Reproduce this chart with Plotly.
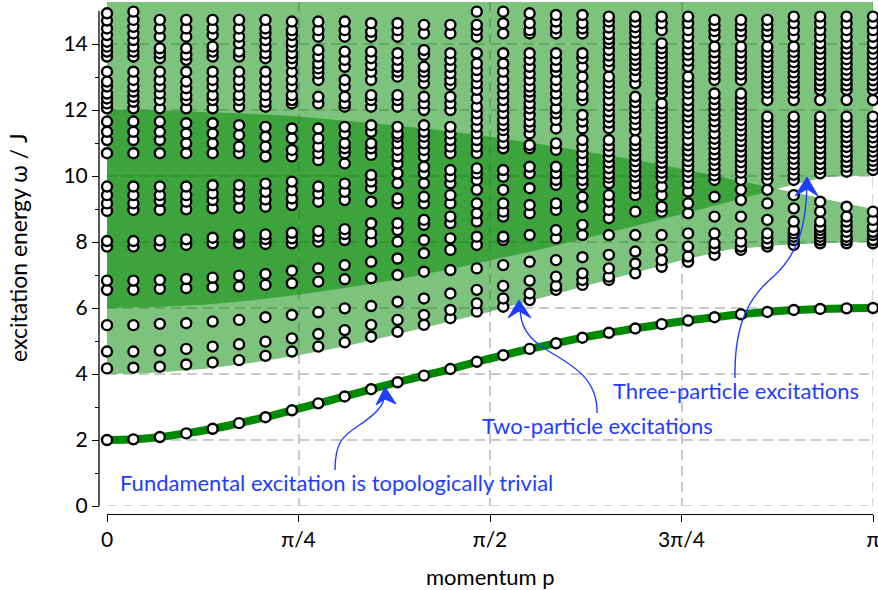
import numpy as np
import plotly.graph_objects as go

# ---------------------------------------------------------------------------
# Data
# ---------------------------------------------------------------------------
N_STEPS = 29                                   # momentum grid: p = k*pi/29
momentum = [k * np.pi / N_STEPS for k in range(N_STEPS + 1)]

# single-particle (fundamental) branch, omega / J
fundamental = [2.00, 2.02, 2.09, 2.20, 2.34, 2.51, 2.69, 2.90, 3.11, 3.32,
               3.54, 3.75, 3.95, 4.15, 4.37, 4.57, 4.76, 4.93, 5.10, 5.25,
               5.38, 5.51, 5.62, 5.72, 5.81, 5.88, 5.94, 5.97, 5.99, 6.00]

# continuum edges sampled at p = n*pi/16
band_p = [n * np.pi / 16 for n in range(17)]
two_lower = [4.00, 4.04, 4.15, 4.33, 4.57, 4.85, 5.18, 5.53, 5.89, 6.28,
             6.67, 7.06, 7.45, 7.77, 7.90, 7.97, 8.00]
two_upper = [12.00, 11.99, 11.95, 11.89, 11.80, 11.68, 11.54, 11.38, 11.19,
             10.98, 10.75, 10.50, 10.22, 9.93, 9.62, 9.31, 9.00]
three_lower = [6.00, 6.03, 6.10, 6.23, 6.40, 6.61, 6.85, 7.13, 7.44, 7.76,
               8.11, 8.47, 8.84, 9.22, 9.61, 9.97, 10.02]
three_upper = [15.87, 15.90, 15.95, 16.00, 16.10, 16.20, 16.30, 16.50, 16.60,
               16.80, 16.90, 17.10, 17.30, 17.50, 17.70, 17.90, 18.00]

# multi-particle eigenvalues, one list per momentum column
multiparticle = [
    [4.17, 4.68, 5.48, 6.55, 6.83, 7.86, 8.03, 8.94, 9.17, 9.42, 9.68,
     10.69, 11.09, 11.34, 11.65, 12.05, 12.20, 12.35, 12.50, 12.71, 12.86, 13.16,
     13.62, 13.77, 13.92, 14.07, 14.27, 14.47, 14.71, 14.93],
    [4.19, 4.68, 5.48, 6.55, 6.83, 7.86, 8.03, 8.97, 9.17, 9.42, 9.68,
     10.69, 11.09, 11.34, 11.65, 12.05, 12.25, 12.40, 12.56, 12.71, 12.91, 13.16,
     13.62, 13.77, 13.92, 14.12, 14.32, 14.52, 14.73, 14.98],
    [4.22, 4.71, 5.52, 6.58, 6.85, 7.88, 8.05, 8.97, 9.25, 9.42, 9.68,
     10.69, 11.09, 11.34, 11.65, 12.05, 12.30, 12.50, 12.71, 12.91, 13.16,
     13.57, 13.72, 13.87, 14.22, 14.47, 14.73],
    [4.29, 4.76, 5.54, 6.60, 6.88, 7.91, 8.08, 8.99, 9.22, 9.42, 9.68,
     10.69, 10.99, 11.29, 11.60, 12.05, 12.30, 12.45, 12.66, 12.86, 13.16,
     13.52, 13.67, 13.87, 14.22, 14.47, 14.73],
    [4.35, 4.83, 5.59, 6.63, 6.92, 7.96, 8.13, 9.02, 9.27, 9.47, 9.72,
     10.69, 10.99, 11.29, 11.60, 12.05, 12.30, 12.45, 12.71, 12.91, 13.16,
     13.62, 13.77, 13.92, 14.27, 14.47, 14.73],
    [4.42, 4.90, 5.64, 6.65, 6.98, 7.96, 8.14, 8.21, 9.04, 9.32, 9.52, 9.72,
     10.69, 10.89, 11.24, 11.54, 12.10, 12.30, 12.45, 12.71, 12.91, 13.16,
     13.62, 13.77, 14.02, 14.22, 14.47, 14.73],
    [4.55, 4.98, 5.72, 6.70, 7.03, 7.94, 8.09, 8.23, 9.07, 9.29, 9.52, 9.77,
     10.59, 10.89, 11.19, 11.49, 12.10, 12.25, 12.45, 12.71, 12.91, 13.16,
     13.57, 13.72, 13.92, 14.12, 14.32, 14.47, 14.73],
    [4.68, 5.08, 5.79, 6.75, 7.13, 7.96, 8.11, 8.28, 9.12, 9.32, 9.57, 9.83,
     10.59, 10.79, 11.14, 11.44, 12.20, 12.30, 12.45, 12.71, 12.91, 13.16,
     13.41, 13.57, 13.72, 13.92, 14.07, 14.27, 14.42, 14.68],
    [4.83, 5.21, 5.87, 6.80, 7.20, 8.01, 8.16, 8.33, 9.22, 9.47, 9.68,
     10.48, 10.69, 10.89, 11.14, 11.44, 12.20, 12.40, 12.91, 13.11, 13.26,
     13.41, 13.62, 13.82, 14.22, 14.42, 14.68],
    [4.96, 5.33, 5.99, 6.87, 7.30, 8.06, 8.24, 8.39, 9.27, 9.52, 9.77,
     10.38, 10.69, 10.84, 10.99, 11.29, 11.49, 12.10, 12.20, 12.40, 12.71, 12.91,
     13.31, 13.52, 13.77, 14.22, 14.42, 14.68],
    [5.13, 5.49, 6.06, 6.90, 7.40, 8.01, 8.26, 8.57, 9.22, 9.63, 9.83,
     10.03, 10.64, 10.84, 10.99, 11.34, 11.54, 12.10, 12.30, 12.45, 12.91, 13.16,
     13.36, 13.57, 13.77, 14.22, 14.37, 14.63],
    [5.28, 5.64, 6.19, 7.00, 7.50, 8.01, 8.36, 8.57, 9.17, 9.32, 9.78,
     10.08, 10.38, 10.59, 10.79, 10.99, 11.19, 11.29, 11.49, 12.10, 12.30, 12.45,
     13.01, 13.16, 13.31, 13.52, 13.72, 14.22, 14.42, 14.63],
    [5.49, 5.79, 6.29, 7.10, 7.66, 8.06, 8.52, 8.67, 9.17, 9.37, 9.78,
     10.08, 10.28, 10.59, 10.79, 10.99, 11.19, 11.34, 11.54, 12.00, 12.20, 12.40,
     12.81, 13.01, 13.16, 13.31, 13.67, 13.82, 14.32, 14.58],
    [5.69, 5.94, 6.44, 7.15, 7.76, 8.11, 8.57, 8.77, 9.17, 9.42, 9.78,
     9.98, 10.18, 10.69, 10.89, 11.09, 11.29, 11.49, 12.00, 12.20, 12.40, 12.76,
     12.91, 13.11, 13.31, 13.52, 13.72, 14.32, 14.58],
    [5.89, 6.14, 6.55, 7.20, 7.91, 8.16, 8.62, 8.87, 9.17, 9.58,
     9.88, 10.08, 10.23, 10.69, 10.89, 11.09, 11.29, 11.49, 11.70, 11.90, 12.10,
     12.35, 12.61, 12.81, 13.01, 13.21, 13.41, 13.72, 14.22, 14.42, 14.58, 14.98],
    [6.04, 6.29, 6.67, 7.30, 8.06, 8.16, 8.77, 8.92, 9.17, 9.58,
     9.98, 10.18, 10.84, 10.99, 11.19, 11.39, 11.54, 11.70, 11.90, 12.10, 12.30,
     12.50, 12.71, 12.91, 13.16, 13.41, 13.72, 14.32, 14.63, 14.98],
    [6.24, 6.44, 6.83, 7.40, 8.21, 8.87, 9.12, 9.63,
     10.08, 10.28, 10.84, 10.94, 11.29, 11.49, 11.65, 11.85, 12.05, 12.20, 12.40,
     12.56, 12.71, 12.91, 13.11, 13.31, 13.52, 13.72, 14.32, 14.42, 14.63, 14.93],
    [6.55, 6.67, 6.95, 7.45, 8.11, 8.36, 8.97, 9.17, 9.73,
     9.88, 10.08, 10.28, 10.79, 10.99, 11.44, 11.70, 11.90, 12.05, 12.30, 12.50,
     12.71, 12.91, 13.16, 13.31, 13.52, 13.72, 14.32, 14.47, 14.68, 14.88],
    [6.70, 6.85, 7.05, 7.54, 8.21, 8.52, 9.07, 9.37, 9.73,
     9.88, 10.08, 10.28, 10.48, 10.69, 10.89, 11.09, 11.44, 11.65, 11.85, 12.30,
     12.45, 12.71, 13.01, 13.31, 13.57, 13.72, 14.32, 14.47, 14.63, 14.88],
    [6.85, 6.95, 7.20, 7.61, 8.21, 8.72, 8.97, 9.22, 9.42, 9.78,
     9.95, 10.07, 10.24, 10.41, 10.58, 10.75, 10.92, 11.09,
     11.45, 11.62, 11.79, 11.96, 12.13, 12.30, 12.50, 12.67, 12.84, 13.01,
     13.31, 13.48, 13.65, 13.82, 14.02, 14.15, 14.30, 14.50, 14.68, 14.83],
    [7.05, 7.35, 7.71, 8.21, 8.92, 9.42, 9.63, 9.78,
     9.98, 10.13, 10.29, 10.45, 10.61, 10.77, 10.93, 11.09,
     11.39, 11.56, 11.73, 11.90, 12.07, 12.24, 12.40, 12.81, 13.01,
     13.21, 13.36, 13.52, 13.67, 13.82, 14.02, 14.18, 14.35, 14.51, 14.67, 14.83],
    [7.25, 7.45, 7.76, 8.21, 8.92, 9.07, 9.42, 9.68,
     9.95, 10.10, 10.25, 10.40, 10.55, 10.70, 10.85, 11.00, 11.15, 11.30, 11.45,
     11.60, 11.75, 11.90, 12.05, 12.20, 12.50, 12.65, 12.80, 12.96, 13.11,
     13.26, 13.41, 13.57, 13.72, 13.87, 14.02, 14.42, 14.63, 14.83],
    [7.40, 7.56, 7.86, 8.26, 8.87, 9.17, 9.53, 9.78,
     9.97, 10.13, 10.29, 10.45, 10.61, 10.77, 10.93, 11.09,
     11.29, 11.46, 11.63, 11.80, 11.96, 12.13, 12.30, 12.50, 12.67, 12.84, 13.01,
     13.31, 13.49, 13.67, 13.84, 14.02, 14.22, 14.42, 14.63, 14.83],
    [7.61, 7.81, 7.96, 8.26, 8.77, 9.37, 9.88,
     10.02, 10.17, 10.33, 10.49, 10.65, 10.81, 10.97, 11.13, 11.29,
     11.49, 11.66, 11.83, 12.00, 12.16, 12.33, 12.50,
     12.91, 13.08, 13.25, 13.41, 13.58, 13.75, 13.92, 14.22, 14.39, 14.56, 14.73],
    [7.76, 7.86, 8.01, 8.26, 8.77, 9.27, 9.58, 9.88,
     10.10, 10.26, 10.42, 10.58, 10.74, 10.90, 11.06, 11.22, 11.38, 11.54, 11.70,
     11.86, 12.02, 12.18, 12.34, 12.50,
     12.91, 13.08, 13.25, 13.41, 13.58, 13.75, 13.92, 14.22, 14.39, 14.56, 14.73],
    [7.86, 7.96, 8.11, 8.26, 8.67, 9.17, 9.58, 9.88,
     10.05, 10.20, 10.36, 10.52, 10.68, 10.84, 11.00, 11.16, 11.32, 11.48, 11.64,
     11.80, 12.30, 12.52, 12.68, 12.83, 12.99, 13.14, 13.30, 13.45, 13.61, 13.76,
     13.92, 14.22, 14.39, 14.56, 14.73],
    [7.91, 8.06, 8.16, 8.26, 8.36, 8.62, 9.02, 9.42,
     9.88, 10.04, 10.20, 10.36, 10.52, 10.68, 10.84, 11.00, 11.16, 11.32, 11.48,
     11.64, 11.80, 12.30, 12.52, 12.68, 12.83, 12.99, 13.14, 13.30, 13.45, 13.61,
     13.76, 13.92, 14.22, 14.42, 14.63, 14.83],
    [7.96, 8.06, 8.16, 8.26, 8.36, 8.46, 8.62, 8.92, 9.22,
     10.08, 10.22, 10.36, 10.52, 10.68, 10.84, 11.00, 11.16, 11.32, 11.48, 11.64,
     11.80, 12.30, 12.61, 12.75, 12.90, 13.06, 13.22, 13.38, 13.54, 13.70, 13.86,
     14.02, 14.22, 14.42, 14.63, 14.83],
    [7.96, 8.06, 8.16, 8.31, 8.46, 8.62, 8.77, 9.07,
     10.13, 10.28, 10.43, 10.58, 10.73, 10.88, 11.03, 11.18, 11.33, 11.48, 11.64,
     11.80, 12.30, 12.61, 12.75, 12.90, 13.06, 13.22, 13.38, 13.54, 13.70, 13.86,
     14.02, 14.22, 14.42, 14.63, 14.83],
    [7.96, 8.06, 8.21, 8.31, 8.46, 8.67, 8.92,
     10.18, 10.32, 10.46, 10.60, 10.74, 10.88, 11.02, 11.17, 11.32, 11.48, 11.64,
     11.80, 12.30, 12.61, 12.75, 12.90, 13.06, 13.22, 13.38, 13.54, 13.70, 13.86,
     14.02, 14.22, 14.42, 14.63, 14.83],
]

x_ticks = [0, np.pi / 4, np.pi / 2, 3 * np.pi / 4, np.pi]
x_ticklabels = ["0", "π/4", "π/2", "3π/4", "π"]
y_ticks = list(range(0, 15, 2))

# ---------------------------------------------------------------------------
# Styling / geometry
# ---------------------------------------------------------------------------
FONT = "Lato, 'Open Sans', sans-serif"
BLUE = "#1f3dff"
GREEN = "#008a00"
BAND_FILL = "rgba(0,135,0,0.51)"
GRID_COLOR = "#c9c9c9"
GRID_DASH = "10px,6px"
W, H = 878, 590
M_L, M_R, M_T, M_B = 99, 5, 2, 76
X0_PX, X1_PX = 107, 873            # pixel span of p = 0 .. pi
Y0_PX = 506                          # pixel row of omega = 0
PX_PER_UNIT = 33.0
Y_TOP = (Y0_PX - M_T) / PX_PER_UNIT
plot_w = W - M_L - M_R
plot_h = H - M_T - M_B
X_PAD = 1e-6                         # keeps the tick at p = pi inside the range


def to_data(px, py):
    """Convert a pixel position on the page into (p, omega)."""
    return ((px - X0_PX) / (X1_PX - X0_PX) * np.pi, (Y0_PX - py) / PX_PER_UNIT)


def path_from_px(cmds):
    out = []
    for c in cmds:
        if isinstance(c, str):
            out.append(c)
        else:
            x, y = to_data(*c)
            out.append(f"{x:.5f},{y:.5f}")
    return " ".join(out)


fig = go.Figure()

# two-particle continuum
fig.add_trace(go.Scatter(
    x=band_p + band_p[::-1], y=two_lower + two_upper[::-1],
    fill="toself", fillcolor=BAND_FILL, line=dict(width=0), mode="lines",
    hoverinfo="skip", showlegend=False))
# three-particle continuum
fig.add_trace(go.Scatter(
    x=band_p + band_p[::-1], y=three_lower + three_upper[::-1],
    fill="toself", fillcolor=BAND_FILL, line=dict(width=0), mode="lines",
    hoverinfo="skip", showlegend=False))

# fundamental branch as a thick line
fig.add_trace(go.Scatter(
    x=momentum, y=fundamental, mode="lines",
    line=dict(color=GREEN, width=8, shape="spline"),
    hoverinfo="skip", showlegend=False))

# multi-particle eigenvalues
mx, my = [], []
for p, col in zip(momentum, multiparticle):
    for e in col:
        mx.append(p)
        my.append(e)

marker_style = dict(size=10, color="white", line=dict(color="black", width=2.4))
fig.add_trace(go.Scatter(x=mx, y=my, mode="markers", marker=marker_style,
                         cliponaxis=False, showlegend=False))
fig.add_trace(go.Scatter(x=momentum, y=fundamental, mode="markers",
                         marker=marker_style, cliponaxis=False, showlegend=False))

# ---------------------------------------------------------------------------
# Annotation arrows (curved) and labels
# ---------------------------------------------------------------------------
arrow_line = dict(color=BLUE, width=1.4)
curves = [
    ["M", (335, 470), "C", (335, 442), (343, 436), (358, 426),
     "C", (376, 414), (384, 406), (385, 394)],
    ["M", (597, 413), "C", (598, 380), (574, 366), (550, 352),
     "C", (526, 338), (520, 325), (520, 306)],
    ["M", (735, 378), "C", (734, 322), (750, 296), (774, 276),
     "C", (800, 252), (806, 222), (807, 186)],
]
heads = [
    [(385, 387), (376, 405), (385, 399), (396, 404)],
    [(519, 300), (508, 318), (519, 311), (531, 318)],
    [(807, 177), (795, 196), (807, 189), (818, 196)],
]
shapes = []
# grid lines on the plot edges (p = pi and omega = 0)
shapes.append(dict(type="line", xref="x", yref="y", x0=np.pi, x1=np.pi,
                   y0=Y_TOP, y1=0, layer="below",
                   line=dict(color=GRID_COLOR, width=1.5, dash=GRID_DASH)))
shapes.append(dict(type="line", xref="x", yref="y", x0=0, x1=np.pi,
                   y0=0, y1=0, layer="below",
                   line=dict(color=GRID_COLOR, width=1.5, dash=GRID_DASH)))
for c in curves:
    shapes.append(dict(type="path", xref="x", yref="y",
                       path=path_from_px(c), line=arrow_line, layer="above"))
for h in heads:
    cmds = ["M", h[0], "L", h[1], "L", h[2], "L", h[3], "Z"]
    shapes.append(dict(type="path", xref="x", yref="y", path=path_from_px(cmds),
                       fillcolor=BLUE, line=dict(color=BLUE, width=1),
                       layer="above"))
# left axis line (0 .. 15)
shapes.append(dict(type="line", xref="paper", yref="y", x0=0, x1=0, y0=0, y1=15,
                   line=dict(color="black", width=1.3), layer="above"))

labels = [
    ("Fundamental excitation is topologically trivial", 118, 482),
    ("Two-particle excitations", 480, 425),
    ("Three-particle excitations", 611, 390),
]
annotations = []
for text, px, py in labels:
    ax_, ay_ = to_data(px, py)
    annotations.append(dict(x=ax_, y=ay_, xref="x", yref="y", text=text,
                            showarrow=False, xanchor="left", yanchor="middle",
                            font=dict(family=FONT, size=22, color=BLUE)))

# axis titles
annotations.append(dict(x=(490 - M_L) / plot_w, y=(H - M_B - 576) / plot_h,
                        xref="paper", yref="paper", text="momentum p",
                        showarrow=False, xanchor="center", yanchor="middle",
                        font=dict(family=FONT, size=22, color="black")))
annotations.append(dict(x=(18 - M_L) / plot_w, y=(H - M_B - 248) / plot_h,
                        xref="paper", yref="paper", text="excitation energy ω / J",
                        textangle=-90, showarrow=False, xanchor="center",
                        yanchor="middle",
                        font=dict(family=FONT, size=23, color="black")))

grid = dict(showgrid=True, gridcolor=GRID_COLOR, gridwidth=1.5,
            griddash=GRID_DASH, zeroline=False)

fig.update_layout(
    width=W, height=H,
    margin=dict(l=M_L, r=M_R, t=M_T, b=M_B, autoexpand=False),
    paper_bgcolor="white", plot_bgcolor="white",
    font=dict(family=FONT, size=21, color="black"),
    shapes=shapes, annotations=annotations,
    xaxis=dict(domain=[(X0_PX - M_L) / plot_w, 1], range=[-X_PAD, np.pi + X_PAD],
               anchor="free", position=0, automargin=False,
               showline=True, linecolor="black", linewidth=1.3,
               ticks="outside", ticklen=7, tickwidth=1.3, tickcolor="black",
               tickvals=x_ticks, ticktext=x_ticklabels,
               ticklabeloverflow="allow",
               tickfont=dict(family=FONT, size=21), **grid),
    yaxis=dict(domain=[(H - M_B - Y0_PX) / plot_h, 1], range=[0, Y_TOP],
               anchor="free", position=0, showline=False, automargin=False,
               ticks="outside", ticklen=7, tickwidth=1.3, tickcolor="black",
               tickvals=y_ticks, tickfont=dict(family=FONT, size=21),
               minor=dict(tickvals=list(range(1, 15, 2)), ticks="outside",
                          ticklen=4, tickwidth=1.3, tickcolor="black",
                          showgrid=False),
               **grid),
)

fig.write_html("out.html")
